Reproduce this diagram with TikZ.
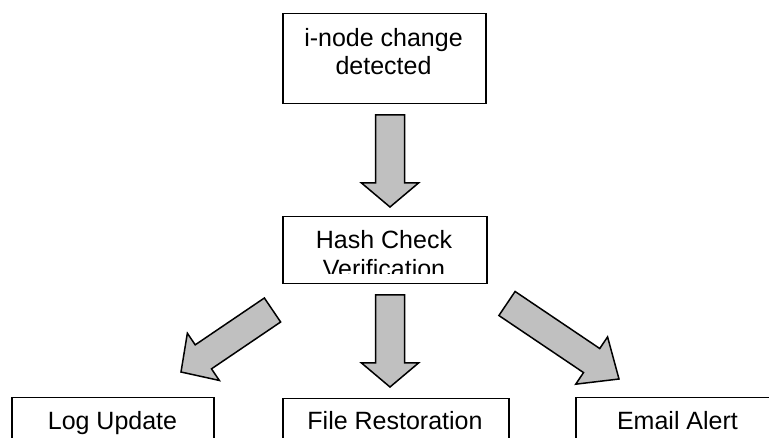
\documentclass[tikz,border=0pt]{standalone}
\usepackage{fontspec}
\setmainfont{Liberation Sans}
\usetikzlibrary{calc}
\definecolor{arrowgray}{RGB}{192,192,192}
\newcommand\faheadlen{24pt}
\tikzset{
  box/.style={draw=black, line width=1.5pt, fill=white, inner sep=0pt, anchor=north west},
  lbl/.style={anchor=base, inner sep=0pt, font=\fontsize{25}{28}\selectfont},
  fa head/.code={\def\faheadlen{#1}},
  % block arrow: shaft 29pt wide, head 57pt wide
  fatarrow/.style={draw=black, line width=1.5pt, fill=arrowgray, line join=miter,
    to path={
      ($(\tikztostart)!14.5pt!90:(\tikztotarget)$)
      -- ($(\tikztotarget)!\faheadlen!(\tikztostart)!14.5pt!-90:(\tikztostart)$)
      -- ($(\tikztotarget)!\faheadlen!(\tikztostart)!28.5pt!-90:(\tikztostart)$)
      -- (\tikztotarget)
      -- ($(\tikztotarget)!\faheadlen!(\tikztostart)!28.5pt!90:(\tikztostart)$)
      -- ($(\tikztotarget)!\faheadlen!(\tikztostart)!14.5pt!90:(\tikztostart)$)
      -- ($(\tikztostart)!14.5pt!-90:(\tikztotarget)$)
      -- cycle}}
}
\begin{document}
\begin{tikzpicture}[x=1pt, y=-1pt]
\useasboundingbox (0,0) rectangle (769,438);
\clip (0,0) rectangle (769,438);

% boxes
\node[box, minimum width=203pt, minimum height=90pt] (detect) at (282,13) {};
\node[box, minimum width=204pt, minimum height=67pt] (hash) at (282,216) {};
\node[box, minimum width=202pt, minimum height=70pt] (log) at (11,397) {};
\node[box, minimum width=226pt, minimum height=70pt] (restore) at (282,398) {};
\node[box, minimum width=204pt, minimum height=70pt] (email) at (575,397) {};

% labels
\node[lbl] (detect1) at (383.5,46.7) {i-node change};
\node[lbl] (detect2) at (383.5,74.5) {detected};
\node[lbl] (hash1) at (384,249) {Hash Check};
\begin{scope}
  \clip (282,216) rectangle (486,274);
  \node[lbl] (hash2) at (384,278) {Verification};
\end{scope}
\node[lbl] (logtxt) at (112.5,430) {Log Update};
\node[lbl] (restoretxt) at (395,430) {File Restoration};
\node[lbl] (emailtxt) at (677.5,430) {Email Alert};

% arrow ends
\coordinate (t1) at (390,115);   \coordinate (h1) at (390,207);
\coordinate (t2) at (390,295);   \coordinate (h2) at (390,387);
\coordinate (t3) at (272.5,310); \coordinate (h3) at (181,372);
\coordinate (t4) at (507,303.5); \coordinate (h4) at (619,379);

% block arrows
\draw[fatarrow] (t1) to (h1);
\draw[fatarrow] (t2) to (h2);
\draw[fatarrow, fa head=27pt] (t3) to (h3);
\draw[fatarrow, fa head=33pt] (t4) to (h4);
\end{tikzpicture}
\end{document}
